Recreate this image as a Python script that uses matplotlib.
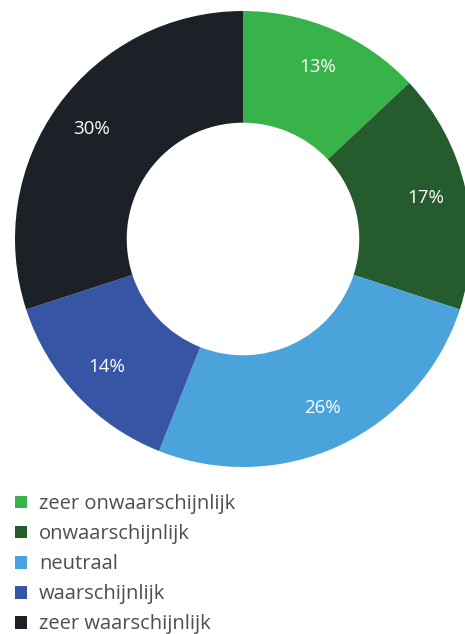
import matplotlib
matplotlib.use("Agg")
import matplotlib.pyplot as plt

# ================================
# data
# ================================
labels = ["zeer onwaarschijnlijk", "onwaarschijnlijk", "neutraal",
          "waarschijnlijk", "zeer waarschijnlijk"]
values = [13, 17, 26, 14, 30]
colors = ["#37b34a", "#265b2e", "#4aa3da", "#3656a5", "#1c2128"]

plt.rcParams["font.family"] = ["Open Sans", "DejaVu Sans"]

W, H = 465, 634
fig = plt.figure(figsize=(W / 100, H / 100), dpi=100)

# donut: centre (243, 239) px, radius 228 px
cx, cy, r = 243, 239, 228
ax = fig.add_axes([(cx - r) / W, (H - cy - r) / H, 2 * r / W, 2 * r / H])
wedges, texts, autotexts = ax.pie(
    values, colors=colors, startangle=90, counterclock=False,
    radius=1, wedgeprops=dict(width=0.49, linewidth=0),
    autopct=lambda p: f"{p:.0f}%", pctdistance=0.82,
    textprops=dict(color="white", fontsize=13.5))
ax.set_xlim(-1, 1)
ax.set_ylim(-1, 1)
ax.set_aspect("equal")
ax.axis("off")

leg = fig.legend(wedges, labels, loc="upper left",
                 bbox_to_anchor=(5 / W, 1 - 484 / H), frameon=False,
                 fontsize=14.5, handlelength=0.6, handleheight=0.6,
                 handletextpad=0.6, labelspacing=0.5, borderpad=0)
for t in leg.get_texts():
    t.set_color("#4a4f56")

fig.savefig("out.png", dpi=100)
